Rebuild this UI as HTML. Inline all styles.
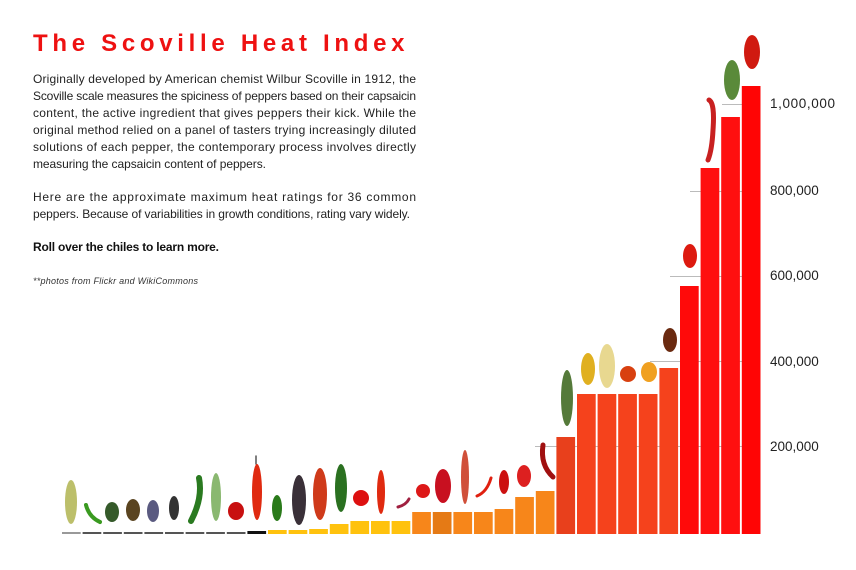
<!DOCTYPE html>
<html><head><meta charset="utf-8"><style>
html,body{margin:0;padding:0;background:#fff;}
svg{display:block}
.p{font-family:"Liberation Sans",sans-serif;font-size:12px;fill:#222;}
</style></head><body>
<svg width="856" height="570" viewBox="0 0 856 570" xmlns="http://www.w3.org/2000/svg">
<text x="33" y="51" font-family="Liberation Sans,sans-serif" font-weight="bold" font-size="24" fill="#ee1111" letter-spacing="4.7">The Scoville Heat Index</text>
<g class="p">
<text x="33" y="83" textLength="383" lengthAdjust="spacing">Originally developed by American chemist Wilbur Scoville in 1912, the</text>
<text x="33" y="100" textLength="383" lengthAdjust="spacing">Scoville scale measures the spiciness of peppers based on their capsaicin</text>
<text x="33" y="117" textLength="383" lengthAdjust="spacing">content, the active ingredient that gives peppers their kick. While the</text>
<text x="33" y="134" textLength="383" lengthAdjust="spacing">original method relied on a panel of tasters trying increasingly diluted</text>
<text x="33" y="151" textLength="383" lengthAdjust="spacing">solutions of each pepper, the contemporary process involves directly</text>
<text x="33" y="168" textLength="233" lengthAdjust="spacing">measuring the capsaicin content of peppers.</text>
<text x="33" y="201" textLength="383" lengthAdjust="spacing">Here are the approximate maximum heat ratings for 36 common</text>
<text x="33" y="218" textLength="377" lengthAdjust="spacing">peppers. Because of variabilities in growth conditions, rating vary widely.</text>
<text x="33" y="251" font-weight="bold" fill="#111" textLength="186" lengthAdjust="spacing">Roll over the chiles to learn more.</text>
<text x="33" y="284" font-style="italic" font-size="9" fill="#333" textLength="165" lengthAdjust="spacing">**photos from Flickr and WikiCommons</text>
</g>
<g stroke="#bbb" stroke-width="1">
<line x1="535" y1="446.5" x2="760" y2="446.5"/>
<line x1="650" y1="361.5" x2="760" y2="361.5"/>
<line x1="670" y1="276.5" x2="760" y2="276.5"/>
<line x1="690" y1="191.5" x2="760" y2="191.5"/>
<line x1="722" y1="104.5" x2="760" y2="104.5"/>
</g>
<g>
<rect x="62" y="532" width="18.7" height="2" fill="#999"/>
<rect x="82.6" y="532" width="18.7" height="2" fill="#555"/>
<rect x="103.2" y="532" width="18.7" height="2" fill="#555"/>
<rect x="123.8" y="532" width="18.7" height="2" fill="#555"/>
<rect x="144.4" y="532" width="18.7" height="2" fill="#555"/>
<rect x="165" y="532" width="18.7" height="2" fill="#555"/>
<rect x="185.6" y="532" width="18.7" height="2" fill="#555"/>
<rect x="206.2" y="532" width="18.7" height="2" fill="#555"/>
<rect x="226.8" y="532" width="18.7" height="2" fill="#555"/>
<rect x="247.4" y="531" width="18.7" height="3" fill="#111"/>
<rect x="268" y="530" width="18.7" height="4" fill="#ffc20e"/>
<rect x="288.6" y="530" width="18.7" height="4" fill="#ffc20e"/>
<rect x="309.2" y="529" width="18.7" height="5" fill="#ffc20e"/>
<rect x="329.8" y="524" width="18.7" height="10" fill="#ffc20e"/>
<rect x="350.4" y="521" width="18.7" height="13" fill="#ffc20e"/>
<rect x="371" y="521" width="18.7" height="13" fill="#ffc20e"/>
<rect x="391.6" y="521" width="18.7" height="13" fill="#ffc20e"/>
<rect x="412.2" y="512" width="18.7" height="22" fill="#f7861a"/>
<rect x="432.8" y="512" width="18.7" height="22" fill="#e57a15"/>
<rect x="453.4" y="512" width="18.7" height="22" fill="#f7861a"/>
<rect x="474" y="512" width="18.7" height="22" fill="#f7861a"/>
<rect x="494.6" y="509" width="18.7" height="25" fill="#f7861a"/>
<rect x="515.2" y="497" width="18.7" height="37" fill="#f7861a"/>
<rect x="535.8" y="491" width="18.7" height="43" fill="#f7861a"/>
<rect x="556.4" y="437" width="18.7" height="97" fill="#e8401c"/>
<rect x="577" y="394" width="18.7" height="140" fill="#f5421c"/>
<rect x="597.6" y="394" width="18.7" height="140" fill="#f5421c"/>
<rect x="618.2" y="394" width="18.7" height="140" fill="#f5421c"/>
<rect x="638.8" y="394" width="18.7" height="140" fill="#f5421c"/>
<rect x="659.4" y="368" width="18.7" height="166" fill="#f5421c"/>
<rect x="680" y="286" width="18.7" height="248" fill="#ff0a0a"/>
<rect x="700.6" y="168" width="18.7" height="366" fill="#ff0f0f"/>
<rect x="721.2" y="117" width="18.7" height="417" fill="#ff0f0f"/>
<rect x="741.8" y="86" width="18.7" height="448" fill="#ff0505"/>
</g>
<g font-family="Liberation Sans,sans-serif" font-size="13.5" fill="#222">
<text x="770" y="108" textLength="65" lengthAdjust="spacing">1,000,000</text>
<text x="770" y="195">800,000</text>
<text x="770" y="280">600,000</text>
<text x="770" y="366">400,000</text>
<text x="770" y="451">200,000</text>
</g>
<g stroke-linecap="round">
<ellipse cx="71" cy="502" rx="6" ry="22" fill="#bcbf6a"/>
<path d="M86 505 q3 12 14 17" stroke="#3a9a20" stroke-width="4" fill="none"/>
<ellipse cx="112" cy="512" rx="7" ry="10" fill="#355a2a"/>
<ellipse cx="133" cy="510" rx="7" ry="11" fill="#5a4420"/>
<ellipse cx="153" cy="511" rx="6" ry="11" fill="#5a5a80"/>
<ellipse cx="174" cy="508" rx="5" ry="12" fill="#333"/>
<path d="M199 478 q4 20 -8 43" stroke="#2a7a20" stroke-width="6" fill="none"/>
<ellipse cx="216" cy="497" rx="5" ry="24" fill="#8ab870"/>
<ellipse cx="236" cy="511" rx="8" ry="9" fill="#c81010"/>
<path d="M256 456 v8" stroke="#555" stroke-width="1.5"/><ellipse cx="257" cy="492" rx="5" ry="28" fill="#e02a10"/>
<ellipse cx="277" cy="508" rx="5" ry="13" fill="#2a7a1a"/>
<ellipse cx="299" cy="500" rx="7" ry="25" fill="#3a3038"/>
<ellipse cx="320" cy="494" rx="7" ry="26" fill="#cf3a1a"/>
<ellipse cx="341" cy="488" rx="6" ry="24" fill="#2a7020"/>
<circle cx="361" cy="498" r="8" fill="#dd1010"/>
<ellipse cx="381" cy="492" rx="4" ry="22" fill="#e02a10"/>
<path d="M398 507 q8 -2 11 -8" stroke="#a02040" stroke-width="3" fill="none"/>
<circle cx="423" cy="491" r="7" fill="#dd1818"/>
<ellipse cx="443" cy="486" rx="8" ry="17" fill="#c81020"/>
<ellipse cx="465" cy="477" rx="4" ry="27" fill="#d0503a"/>
<path d="M477 496 q10 -4 14 -18" stroke="#e02010" stroke-width="3" fill="none"/>
<ellipse cx="504" cy="482" rx="5" ry="12" fill="#cc1010"/>
<ellipse cx="524" cy="476" rx="7" ry="11" fill="#dd2020"/>
<path d="M543 445 q-3 20 10 32" stroke="#a01010" stroke-width="5" fill="none"/>
<ellipse cx="567" cy="398" rx="6" ry="28" fill="#557a3a"/>
<ellipse cx="588" cy="369" rx="7" ry="16" fill="#e0b020"/>
<ellipse cx="607" cy="366" rx="8" ry="22" fill="#e8d890"/>
<circle cx="628" cy="374" r="8" fill="#d84010"/>
<ellipse cx="649" cy="372" rx="8" ry="10" fill="#f0a020"/>
<ellipse cx="670" cy="340" rx="7" ry="12" fill="#6a2a10"/>
<ellipse cx="690" cy="256" rx="7" ry="12" fill="#dd1a10"/>
<path d="M709 100 q6 3 4 30 q-1 20 -5 30" stroke="#c82020" stroke-width="5" fill="none"/>
<ellipse cx="732" cy="80" rx="8" ry="20" fill="#5a8a3a"/>
<ellipse cx="752" cy="52" rx="8" ry="17" fill="#d01a10"/>
</g>
</svg>
</body></html>
